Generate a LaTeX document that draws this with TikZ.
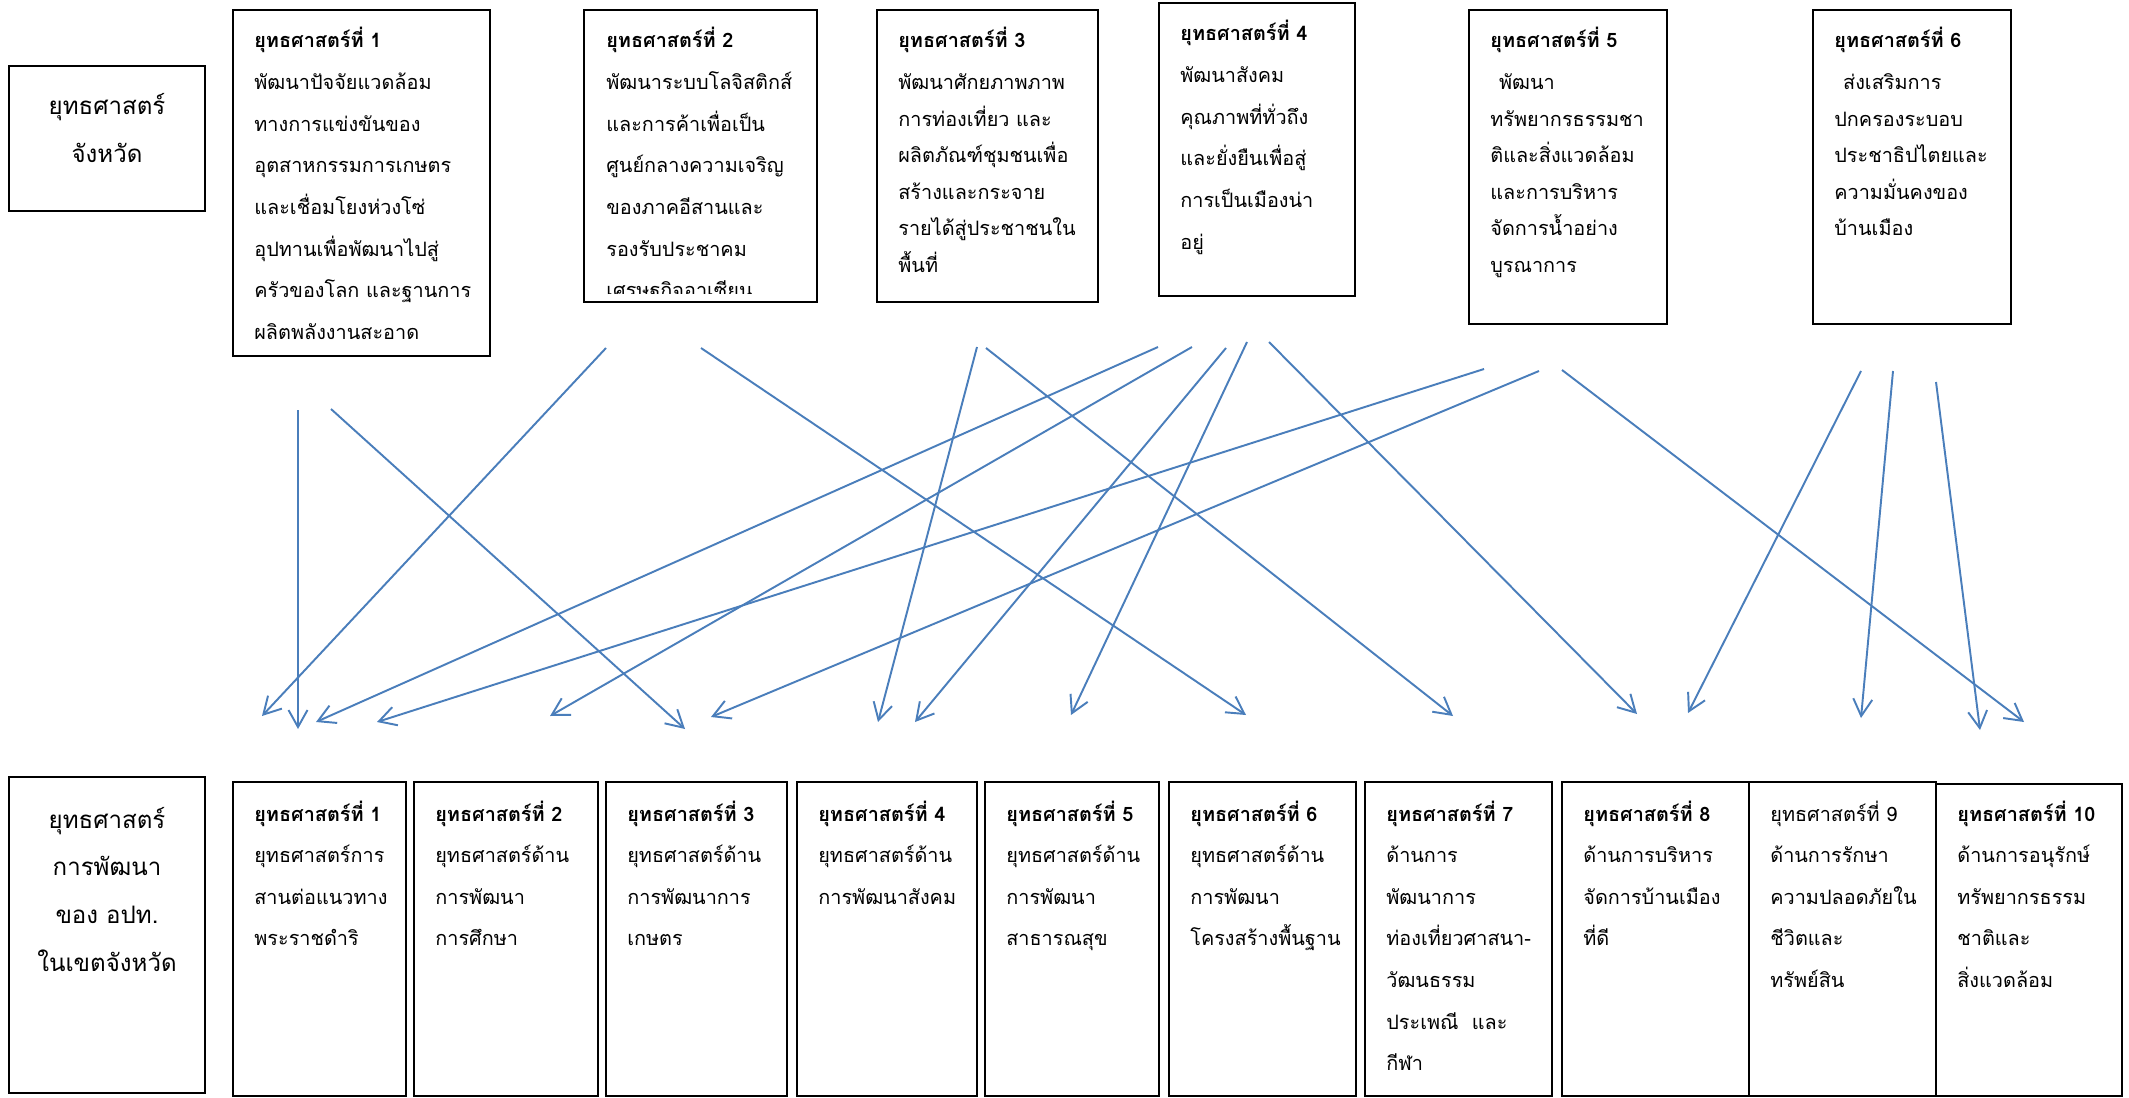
\documentclass[tikz,border=0pt]{standalone}
\usepackage{fontspec}
\setmainfont[Script=Thai]{Loma}
\usetikzlibrary{arrows.meta,fit}
\definecolor{linkblue}{HTML}{4A7EBB}
\tikzset{
  stratbox/.style={draw=black, line width=1.2pt, inner sep=0pt},
  stext/.style={anchor=base west, inner sep=0pt, align=left, text width=6cm,
    font=\fontsize{11.3}{23.7}\selectfont},
  tightlines/.style={font=\fontsize{11.3}{20.8}\selectfont},
  sidetext/.style={anchor=base, inner sep=0pt, align=center, text width=3.9cm,
    font=\fontsize{13.7}{27.2}\selectfont},
  link/.style={->, draw=linkblue, line width=1.1pt},
}
\begin{document}
\begin{tikzpicture}[x=0.02cm, y=-0.02cm, >={Straight Barb[length=3.4mm,width=3.8mm]}]
\useasboundingbox (0,0) rectangle (2129,1098);
% provincial strategies
\node[stratbox, fit={(9,66) (205,211)}] (prov) {};
\node[sidetext] (provtxt) at (107,115) {ยุทธศาสตร์\\จังหวัด};
\node[stratbox, fit={(233,10) (490,356)}] (t1) {};
\node[stext] (t1txt) at (254,48) {\textbf{ยุทธศาสตร์ที่ 1}\\พัฒนาปัจจัยแวดล้อม\\ทางการแข่งขันของ\\อุตสาหกรรมการเกษตร\\และเชื่อมโยงห่วงโซ่\\อุปทานเพื่อพัฒนาไปสู่\\ครัวของโลก และฐานการ\\ผลิตพลังงานสะอาด};
\node[stratbox, fit={(584,10) (817,302)}] (t2) {};
\begin{scope}
\clip (584,10) rectangle (817,293);
\node[stext] (t2txt) at (606,48) {\textbf{ยุทธศาสตร์ที่ 2}\\พัฒนาระบบโลจิสติกส์\\และการค้าเพื่อเป็น\\ศูนย์กลางความเจริญ\\ของภาคอีสานและ\\รองรับประชาคม\\เศรษฐกิจอาเซียน};
\end{scope}
\node[stratbox, fit={(877,10) (1098,302)}] (t3) {};
\node[stext, tightlines] (t3txt) at (898,48) {\textbf{ยุทธศาสตร์ที่ 3}\\[2.9pt]พัฒนาศักยภาพภาพ\\การท่องเที่ยว และ\\ผลิตภัณฑ์ชุมชนเพื่อ\\สร้างและกระจาย\\รายได้สู่ประชาชนใน\\พื้นที่};
\node[stratbox, fit={(1159,3) (1355,296)}] (t4) {};
\node[stext] (t4txt) at (1180,41) {\textbf{ยุทธศาสตร์ที่ 4}\\พัฒนาสังคม\\คุณภาพที่ทั่วถึง\\และยั่งยืนเพื่อสู่\\การเป็นเมืองน่า\\อยู่};
\node[stratbox, fit={(1469,10) (1667,324)}] (t5) {};
\node[stext, tightlines] (t5txt) at (1490,48) {\textbf{ยุทธศาสตร์ที่ 5}\\[2.9pt]\hspace*{5pt}พัฒนา\\ทรัพยากรธรรมชา\\ติและสิ่งแวดล้อม\\และการบริหาร\\จัดการน้ำอย่าง\\บูรณาการ};
\node[stratbox, fit={(1813,10) (2011,324)}] (t6) {};
\node[stext, tightlines] (t6txt) at (1834,48) {\textbf{ยุทธศาสตร์ที่ 6}\\[2.9pt]\hspace*{5pt}ส่งเสริมการ\\ปกครองระบอบ\\ประชาธิปไตยและ\\ความมั่นคงของ\\บ้านเมือง};
% local development strategies
\node[stratbox, fit={(9,777) (205,1093)}] (local) {};
\node[sidetext] (localtxt) at (107,828) {ยุทธศาสตร์\\การพัฒนา\\ของ อปท.\\ในเขตจังหวัด};
\node[stratbox, fit={(233,782) (406,1096)}] (b1) {};
\node[stext] (b1txt) at (254,821) {\textbf{ยุทธศาสตร์ที่ 1}\\ยุทธศาสตร์การ\\สานต่อแนวทาง\\พระราชดำริ};
\node[stratbox, fit={(414,782) (598,1096)}] (b2) {};
\node[stext] (b2txt) at (435,821) {\textbf{ยุทธศาสตร์ที่ 2}\\ยุทธศาสตร์ด้าน\\การพัฒนา\\การศึกษา};
\node[stratbox, fit={(606,782) (787,1096)}] (b3) {};
\node[stext] (b3txt) at (627,821) {\textbf{ยุทธศาสตร์ที่ 3}\\ยุทธศาสตร์ด้าน\\การพัฒนาการ\\เกษตร};
\node[stratbox, fit={(797,782) (977,1096)}] (b4) {};
\node[stext] (b4txt) at (818,821) {\textbf{ยุทธศาสตร์ที่ 4}\\ยุทธศาสตร์ด้าน\\การพัฒนาสังคม};
\node[stratbox, fit={(985,782) (1159,1096)}] (b5) {};
\node[stext] (b5txt) at (1006,821) {\textbf{ยุทธศาสตร์ที่ 5}\\ยุทธศาสตร์ด้าน\\การพัฒนา\\สาธารณสุข};
\node[stratbox, fit={(1169,782) (1356,1096)}] (b6) {};
\node[stext] (b6txt) at (1190,821) {\textbf{ยุทธศาสตร์ที่ 6}\\ยุทธศาสตร์ด้าน\\การพัฒนา\\โครงสร้างพื้นฐาน};
\node[stratbox, fit={(1365,782) (1552,1096)}] (b7) {};
\node[stext] (b7txt) at (1386,821) {\textbf{ยุทธศาสตร์ที่ 7}\\ด้านการ\\พัฒนาการ\\ท่องเที่ยวศาสนา-\\วัฒนธรรม\\ประเพณี\ \ และ\\กีฬา};
\node[stratbox, fit={(1562,782) (1749,1096)}] (b8) {};
\node[stext] (b8txt) at (1583,821) {\textbf{ยุทธศาสตร์ที่ 8}\\ด้านการบริหาร\\จัดการบ้านเมือง\\ที่ดี};
\node[stratbox, fit={(1749,782) (1936,1096)}] (b9) {};
\node[stext] (b9txt) at (1770,821) {ยุทธศาสตร์ที่ 9\\ด้านการรักษา\\ความปลอดภัยใน\\ชีวิตและ\\ทรัพย์สิน};
\node[stratbox, fit={(1936,784) (2122,1096)}] (b10) {};
\node[stext] (b10txt) at (1957,821) {\textbf{ยุทธศาสตร์ที่ 10}\\ด้านการอนุรักษ์\\ทรัพยากรธรรม\\ชาติและ\\สิ่งแวดล้อม};
% arrow ends
\coordinate (s1) at (298,410);   \coordinate (e1) at (298,729);
\coordinate (s2) at (331,409);   \coordinate (e2) at (685,729);
\coordinate (s3) at (606,348);   \coordinate (e3) at (262,716);
\coordinate (s4) at (701,348);   \coordinate (e4) at (1246,715);
\coordinate (s5) at (977,347);   \coordinate (e5) at (878,722);
\coordinate (s6) at (986,348);   \coordinate (e6) at (1453,716);
\coordinate (s7) at (1158,347);  \coordinate (e7) at (316,722);
\coordinate (s8) at (1192,347);  \coordinate (e8) at (550,716);
\coordinate (s9) at (1226,348);  \coordinate (e9) at (915,722);
\coordinate (s10) at (1247,342); \coordinate (e10) at (1071,715);
\coordinate (s11) at (1269,342); \coordinate (e11) at (1637,714);
\coordinate (s12) at (1484,369); \coordinate (e12) at (377,722);
\coordinate (s13) at (1539,371); \coordinate (e13) at (711,717);
\coordinate (s14) at (1562,370); \coordinate (e14) at (2024,722);
\coordinate (s15) at (1861,371); \coordinate (e15) at (1688,713);
\coordinate (s16) at (1893,371); \coordinate (e16) at (1861,718);
\coordinate (s17) at (1936,382); \coordinate (e17) at (1980,730);
\draw[link] (s1) -- (e1);
\draw[link] (s2) -- (e2);
\draw[link] (s3) -- (e3);
\draw[link] (s4) -- (e4);
\draw[link] (s5) -- (e5);
\draw[link] (s6) -- (e6);
\draw[link] (s7) -- (e7);
\draw[link] (s8) -- (e8);
\draw[link] (s9) -- (e9);
\draw[link] (s10) -- (e10);
\draw[link] (s11) -- (e11);
\draw[link] (s12) -- (e12);
\draw[link] (s13) -- (e13);
\draw[link] (s14) -- (e14);
\draw[link] (s15) -- (e15);
\draw[link] (s16) -- (e16);
\draw[link] (s17) -- (e17);
\end{tikzpicture}
\end{document}
